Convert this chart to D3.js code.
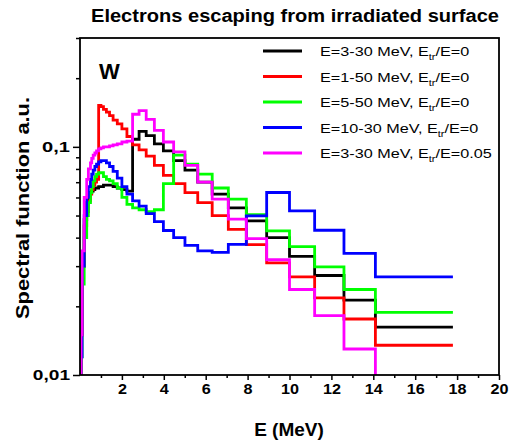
<!DOCTYPE html>
<html>
<head>
<meta charset="utf-8">
<script src="https://cdn.jsdelivr.net/npm/d3@7"></script>
<style>
  body { margin: 0; background: #fff; }
  text { font-family: "Liberation Sans", Arial, sans-serif; }
</style>
</head>
<body>
<div id="chart"></div>
<script>
// bin start energies (MeV), last entry is the end of the last bin
var binStarts = [0.02, 0.05, 0.1, 0.2, 0.32, 0.4, 0.5, 0.56, 0.63, 0.71, 0.79, 0.89, 1.0, 1.12, 1.26,
  1.41, 1.58, 1.78, 2.0, 2.24, 2.51, 2.82, 3.16, 3.55, 3.98, 4.47, 5.01, 5.62, 6.31, 7.08,
  7.94, 8.91, 10.0, 11.2, 12.6, 14.1, 17.8];

// spectral function values per bin
var black = [0.004, 0.015, 0.03, 0.048, 0.057, 0.061, 0.063, 0.064, 0.065, 0.066, 0.066, 0.067, 0.067, 0.068, 0.068,
  0.068, 0.067, 0.066, 0.065, 0.064, 0.108, 0.117, 0.112, 0.103, 0.096, 0.087, 0.079, 0.070, 0.062, 0.054,
  0.0474, 0.040, 0.0331, 0.0273, 0.0213, 0.0162];
var red = [0.004, 0.015, 0.03, 0.045, 0.052, 0.058, 0.062, 0.065, 0.068, 0.07, 0.072, 0.152, 0.15, 0.146, 0.142,
  0.137, 0.131, 0.126, 0.12, 0.111, 0.102, 0.097, 0.091, 0.083, 0.075, 0.069, 0.063, 0.057, 0.050, 0.0435,
  0.0373, 0.031, 0.0269, 0.0218, 0.0176, 0.0135];
var green = [0.004, 0.012, 0.025, 0.04, 0.05, 0.057, 0.063, 0.067, 0.071, 0.074, 0.076, 0.077, 0.077, 0.074, 0.072,
  0.071, 0.069, 0.066, 0.06, 0.056, 0.054, 0.053, 0.052, 0.053, 0.069, 0.092, 0.084, 0.076, 0.066, 0.059,
  0.0505, 0.0428, 0.0365, 0.0298, 0.0237, 0.0188];
var blue = [0.004, 0.012, 0.03, 0.05, 0.06, 0.067, 0.072, 0.076, 0.079, 0.082, 0.084, 0.086, 0.087, 0.087, 0.085,
  0.082, 0.078, 0.073, 0.067, 0.062, 0.058, 0.055, 0.051, 0.047, 0.043, 0.040, 0.037, 0.035, 0.0345, 0.0374,
  0.0498, 0.0631, 0.0524, 0.0431, 0.0341, 0.0269];
var magenta = [0.004, 0.015, 0.035, 0.06, 0.072, 0.08, 0.085, 0.089, 0.092, 0.094, 0.096, 0.098, 0.099, 0.1, 0.1,
  0.101, 0.102, 0.103, 0.105, 0.106, 0.139, 0.144, 0.132, 0.118, 0.105, 0.095, 0.083, 0.070, 0.059, 0.0482,
  0.0396, 0.032, 0.0237, 0.0182, 0.0130, 0.004];

var seriesNames = ["E=3-30 MeV, E|tr|/E=0", "E=1-50 MeV, E|tr|/E=0", "E=5-50 MeV, E|tr|/E=0",
  "E=10-30 MeV, E|tr|/E=0", "E=3-30 MeV, E|tr|/E=0.05"];
var seriesColors = ["#000000", "#ff0000", "#00ff00", "#0000ff", "#ff00ff"];
var seriesValues = [black, red, green, blue, magenta];

var xMajor = [2, 4, 6, 8, 10, 12, 14, 16, 18, 20];
var xMinor = [1, 3, 5, 7, 9, 11, 13, 15, 17, 19];
var yMajor = [0.01, 0.1];
var yMinor = [0.02, 0.03, 0.04, 0.05, 0.06, 0.07, 0.08, 0.09, 0.2, 0.3];

var width = 509;
var height = 444;
var plot = {left: 80, right: 499, top: 38, bottom: 375};

var svg = d3.select('#chart')
  .append('svg')
  .attr('width', width)
  .attr('height', height);

var x = d3.scaleLinear().domain([0, 20]).range([plot.left, plot.right]);
var y = d3.scaleLog().domain([0.01, 0.3]).range([plot.bottom, plot.top]);

var commaFmt = d3.formatLocale({decimal: ",", thousands: ".", grouping: [3], currency: ["", ""]}).format("~g");

svg.append('defs').append('clipPath')
  .attr('id', 'plotclip')
  .append('rect')
  .attr('x', plot.left)
  .attr('y', plot.top)
  .attr('width', plot.right - plot.left)
  .attr('height', plot.bottom - plot.top);

// step lines
var line = d3.line()
  .x(function(d) { return x(d[0]); })
  .y(function(d) { return y(d[1]); })
  .curve(d3.curveStepAfter);

var lines = svg.append('g').attr('clip-path', 'url(#plotclip)');
seriesValues.forEach(function(vals, k) {
  var pts = vals.map(function(v, i) { return [binStarts[i], v]; });
  pts.push([binStarts[vals.length], vals[vals.length - 1]]);
  lines.append('path')
    .attr('d', line(pts))
    .attr('fill', 'none')
    .attr('stroke', seriesColors[k])
    .attr('stroke-width', 2.8);
});

// axes
svg.append('g')
  .attr('class', 'xaxis')
  .attr('transform', 'translate(0,' + plot.bottom + ')')
  .call(d3.axisBottom(x).tickValues(xMajor).tickSize(5).tickPadding(4).tickFormat(d3.format('d')));
svg.append('g')
  .attr('transform', 'translate(0,' + plot.bottom + ')')
  .call(d3.axisBottom(x).tickValues(xMinor).tickSize(3).tickFormat(''));
svg.append('g')
  .attr('class', 'yaxis')
  .attr('transform', 'translate(' + plot.left + ',0)')
  .call(d3.axisLeft(y).tickValues(yMajor).tickSize(7).tickPadding(3).tickFormat(commaFmt));
svg.append('g')
  .attr('transform', 'translate(' + plot.left + ',0)')
  .call(d3.axisLeft(y).tickValues(yMinor).tickSize(4).tickFormat(''));

svg.selectAll('.domain').remove();
svg.selectAll('.tick line').attr('stroke', '#000').attr('stroke-width', 1.5);
svg.selectAll('.tick text')
  .attr('fill', '#000')
  .style('font-family', '"Liberation Sans", Arial, sans-serif')
  .style('font-size', '14px')
  .style('font-weight', 'bold');
// labels in the picture are a little wider than the font
svg.selectAll('.xaxis .tick text')
  .attr('textLength', function(d) { return String(d).length * 9; })
  .attr('lengthAdjust', 'spacingAndGlyphs');
svg.selectAll('.yaxis .tick text')
  .attr('textLength', function(d) { return commaFmt(d).length * 9.3; })
  .attr('lengthAdjust', 'spacingAndGlyphs');

// frame
svg.append('rect')
  .attr('x', plot.left)
  .attr('y', plot.top)
  .attr('width', plot.right - plot.left)
  .attr('height', plot.bottom - plot.top)
  .attr('fill', 'none')
  .attr('stroke', '#000')
  .attr('stroke-width', 1.8);

// title and labels
svg.append('text')
  .attr('x', 295).attr('y', 22)
  .attr('text-anchor', 'middle')
  .attr('textLength', 408).attr('lengthAdjust', 'spacingAndGlyphs')
  .style('font-size', '17.5px').style('font-weight', 'bold')
  .text('Electrons escaping from irradiated surface');

svg.append('text')
  .attr('x', 289).attr('y', 436)
  .attr('text-anchor', 'middle')
  .style('font-size', '19px').style('font-weight', 'bold')
  .text('E (MeV)');

svg.append('text')
  .attr('transform', 'translate(29,' + 208 + ') rotate(-90)')
  .attr('text-anchor', 'middle')
  .attr('textLength', 222).attr('lengthAdjust', 'spacingAndGlyphs')
  .style('font-size', '17.5px').style('font-weight', 'bold')
  .text('Spectral function a.u.');

svg.append('text')
  .attr('x', 99).attr('y', 79)
  .style('font-size', '22px').style('font-weight', 'bold')
  .text('W');

// legend
var legend = svg.append('g');
seriesNames.forEach(function(name, k) {
  var ly = 51 + k * 25.5;
  legend.append('line')
    .attr('x1', 263).attr('x2', 302)
    .attr('y1', ly).attr('y2', ly)
    .attr('stroke', seriesColors[k])
    .attr('stroke-width', 3);
  var parts = name.split('|');
  var t = legend.append('text')
    .attr('transform', 'translate(320,' + (ly + 5) + ') scale(1.2,1)')
    .style('font-size', '13.5px');
  t.append('tspan').text(parts[0]);
  t.append('tspan').attr('dy', 4).style('font-size', '9px').text(parts[1]);
  t.append('tspan').attr('dy', -4).text(parts[2]);
});
</script>
</body>
</html>
